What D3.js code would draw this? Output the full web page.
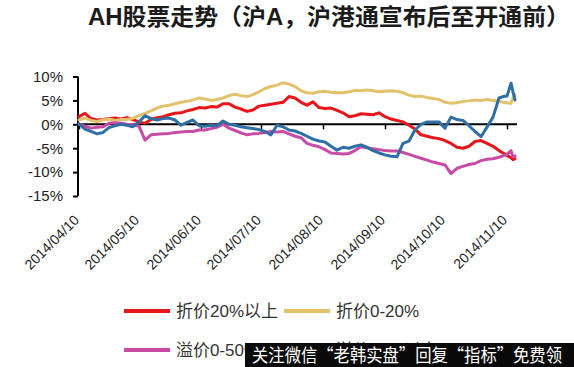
<!DOCTYPE html>
<html><head><meta charset="utf-8">
<script src="https://cdn.jsdelivr.net/npm/d3@7/dist/d3.min.js"></script>
<style>
html,body{margin:0;padding:0;background:#fff;}
svg{display:block;}
</style></head>
<body><svg id="c" width="574" height="367"></svg>
<script>
const dates = ["2014-04-10","2014-04-13","2014-04-16","2014-04-19","2014-04-22","2014-04-25","2014-04-28",
"2014-05-01","2014-05-04","2014-05-07","2014-05-10","2014-05-13","2014-05-16","2014-05-19","2014-05-22","2014-05-25","2014-05-28","2014-05-31",
"2014-06-03","2014-06-06","2014-06-09","2014-06-12","2014-06-15","2014-06-18","2014-06-21","2014-06-24","2014-06-27","2014-06-30",
"2014-07-03","2014-07-06","2014-07-09","2014-07-12","2014-07-15","2014-07-18","2014-07-21","2014-07-24","2014-07-27","2014-07-30",
"2014-08-02","2014-08-05","2014-08-08","2014-08-11","2014-08-14","2014-08-17","2014-08-20","2014-08-23","2014-08-26","2014-08-29",
"2014-09-01","2014-09-04","2014-09-07","2014-09-10","2014-09-13","2014-09-16","2014-09-19","2014-09-22","2014-09-25","2014-09-28",
"2014-10-01","2014-10-04","2014-10-07","2014-10-10","2014-10-13","2014-10-16","2014-10-19","2014-10-22","2014-10-25","2014-10-28","2014-10-31",
"2014-11-03","2014-11-06","2014-11-08","2014-11-10","2014-11-12","2014-11-13","2014-11-14"];

const seriesNames = ["折价20%以上","折价0-20%","溢价0-50%","溢价50%以上"];

const discount20Plus = [1.6,2.3,1.2,0.9,1.0,1.2,1.3,1.1,1.4,1.0,
0.5,0.2,1.0,1.4,1.6,2.0,2.3,2.4,2.8,3.1,
3.5,3.4,3.7,3.6,4.3,4.3,3.6,3.2,2.7,3.0,
3.8,4.0,4.2,4.4,4.6,5.8,5.5,4.6,4.0,4.7,
3.5,3.3,3.4,2.9,2.4,1.6,1.8,2.2,2.1,2.0,
2.4,1.6,1.1,0.8,0.5,-0.2,-1.0,-2.2,-2.5,-2.8,
-3.0,-3.4,-4.0,-4.8,-5.0,-4.6,-3.6,-3.4,-4.0,-4.6,-5.5,
-6.0,-6.5,-7.0,-7.4,-7.2];

const discount0to20 = [0.9,1.3,0.8,0.6,0.9,1.1,0.8,1.0,1.0,1.3,
1.8,2.3,2.8,3.4,3.8,4.0,4.3,4.6,4.8,5.1,
5.5,5.3,5.0,5.2,5.5,6.0,6.3,6.0,5.8,6.2,
6.8,7.5,7.9,8.2,8.7,8.4,7.9,7.0,6.6,6.5,
6.8,6.9,6.7,6.6,6.6,6.8,7.1,7.0,7.2,7.0,
6.8,6.9,7.0,6.9,6.6,6.1,5.8,5.9,5.6,5.4,
5.2,4.6,4.4,4.5,4.8,4.9,5.1,5.0,5.2,5.0,4.8,
4.6,4.5,4.4,5.5,6.2];

const premium0to50 = [0.0,-0.4,-0.8,-0.6,-0.5,0.2,0.3,0.2,0.0,-0.1,
-0.4,-3.3,-2.2,-2.1,-2.0,-1.9,-1.7,-1.6,-1.5,-1.5,
-1.2,-1.2,-0.9,-0.6,0.0,-0.8,-1.3,-1.8,-2.2,-2.0,
-1.9,-1.7,-1.5,-1.6,-1.5,-2.0,-2.5,-2.8,-4.0,-4.4,
-4.7,-5.3,-6.0,-6.1,-6.2,-6.1,-5.5,-4.7,-4.9,-5.1,
-5.3,-5.5,-5.6,-5.6,-5.9,-6.3,-6.7,-7.1,-7.5,-7.9,
-8.2,-8.5,-10.3,-9.2,-8.8,-8.4,-8.2,-7.6,-7.3,-7.2,-6.9,
-6.6,-6.3,-5.5,-6.8,-6.6];

const premium50Plus = [0.1,-1.0,-1.5,-2.0,-1.7,-0.7,-0.3,0.0,-0.2,-0.5,
0.5,1.8,1.2,0.9,1.2,1.3,0.9,-0.2,0.4,0.9,
-0.3,-0.4,-0.2,-0.3,0.7,0.0,-0.2,-0.5,-0.7,-0.9,
-1.1,-1.5,-2.2,-0.2,-0.5,-1.2,-1.4,-1.9,-2.5,-3.1,
-3.5,-3.7,-4.6,-5.4,-4.8,-5.0,-4.6,-4.3,-4.8,-5.5,
-6.0,-6.4,-6.7,-6.8,-4.0,-3.5,-1.2,0.0,0.5,0.5,
0.5,-0.8,1.5,1.0,0.8,-0.3,-1.5,-2.6,-0.6,1.5,5.5,
5.8,5.9,8.6,6.8,5.1];

const seriesValues = [discount20Plus, discount0to20, premium0to50, premium50Plus];
const seriesColors = ["#e8161b","#e2c36c","#c84ca6","#2f6fa6"];
const yTicks = [10,5,0,-5,-10,-15];
const xTickLabels = ["2014/04/10","2014/05/10","2014/06/10","2014/07/10","2014/08/10","2014/09/10","2014/10/10","2014/11/10"];
const titleText = "AH股票走势（沪A，沪港通宣布后至开通前）";
const watermarkText = "关注微信“老韩实盘”回复“指标”免费领";

const svg = d3.select("#c");
const parse = d3.timeParse("%Y-%m-%d");
const parseTick = d3.timeParse("%Y/%m/%d");
const fmt = d3.timeFormat("%Y/%m/%d");
const dateObjs = dates.map(parse);

const x = d3.scaleTime().domain([parse("2014-04-10"), parse("2014-11-14")]).range([79, 515]);
const y = d3.scaleLinear().domain([-15, 10]).range([196, 76.5]);

// title
svg.append("text").attr("x", 88).attr("y", 25)
  .attr("font-family", "'Liberation Sans','Noto Sans CJK SC',sans-serif")
  .attr("font-weight", "bold").attr("font-size", 23).attr("fill", "#1b1b1b")
  .attr("textLength", 482).attr("lengthAdjust", "spacingAndGlyphs")
  .text(titleText);

// y axis
const yAxis = d3.axisLeft(y).tickValues(yTicks).tickSize(5).tickPadding(10).tickFormat(d => d + "%");
const gy = svg.append("g").attr("transform", "translate(78,0)").call(yAxis);
gy.select(".domain").attr("stroke", "#000").attr("stroke-width", 2).attr("d", "M0," + y(10) + "V" + y(-15));
gy.selectAll(".tick line").attr("stroke", "#000").attr("stroke-width", 2);
gy.selectAll(".tick text").attr("font-family", "'Liberation Sans',Arial,sans-serif").attr("font-size", 15).attr("fill", "#222");

// x axis on zero line
const tickDates = xTickLabels.map(parseTick);
const xAxis = d3.axisBottom(x).tickValues(tickDates).tickSize(5).tickFormat("");
const gx = svg.append("g").attr("transform", "translate(0," + y(0) + ")").call(xAxis);
gx.select(".domain").attr("stroke", "#000").attr("stroke-width", 2).attr("d", "M78,0H517");
gx.selectAll(".tick line").attr("stroke", "#000").attr("stroke-width", 1.5);

// rotated date labels
svg.append("g").selectAll("text").data(tickDates).join("text")
  .attr("transform", d => "translate(" + (x(d) + 1) + ",221) rotate(-45)")
  .attr("text-anchor", "end")
  .attr("font-family", "'Liberation Sans',Arial,sans-serif").attr("font-size", 14).attr("fill", "#222")
  .text(d => fmt(d));

// lines
const line = d3.line().x((d, i) => x(dateObjs[i])).y(d => y(d)).curve(d3.curveLinear);
seriesValues.forEach((vals, si) => {
  svg.append("path").datum(vals).attr("d", line)
    .attr("fill", "none").attr("stroke", seriesColors[si]).attr("stroke-width", 3)
    .attr("stroke-linejoin", "round").attr("stroke-linecap", "round");
});

// legend
const legendPos = [[124, 311], [284, 311], [124, 350], [284, 350]];
seriesNames.forEach((name, i) => {
  const [lx, ly] = legendPos[i];
  svg.append("line").attr("x1", lx).attr("x2", lx + 46).attr("y1", ly).attr("y2", ly)
    .attr("stroke", seriesColors[i]).attr("stroke-width", 4);
  svg.append("text").attr("x", lx + 52).attr("y", ly + 6)
    .attr("font-family", "'Liberation Sans','Noto Sans CJK SC',sans-serif")
    .attr("font-size", 17).attr("fill", "#333").text(name);
});

// watermark
svg.append("rect").attr("x", 245).attr("y", 343).attr("width", 329).attr("height", 24).attr("fill", "#0a0a0a");
svg.append("text").attr("x", 252).attr("y", 362)
  .attr("font-family", "'Noto Sans CJK SC',sans-serif").attr("font-size", 18).attr("fill", "#fff")
  .attr("textLength", 310).attr("lengthAdjust", "spacingAndGlyphs")
  .text(watermarkText);
</script></body></html>
